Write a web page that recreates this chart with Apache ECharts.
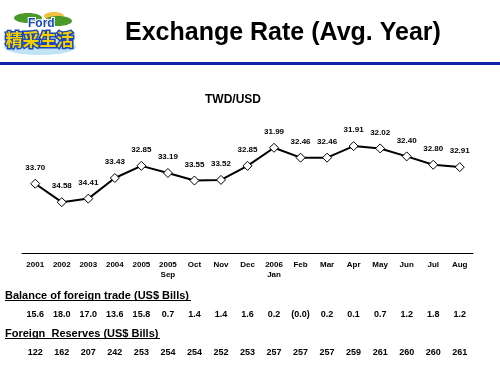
<!DOCTYPE html>
<html>
<head>
<meta charset="utf-8">
<script src="https://cdn.jsdelivr.net/npm/echarts@6/dist/echarts.min.js"></script>
<style>
    html, body { margin: 0; padding: 0; background: #fff; }
    #exchange_rate_chart { width: 500px; height: 375px; }
</style>
</head>
<body>
<div id="exchange_rate_chart"></div>
<script>
// 月份/年份
var periods = ['2001', '2002', '2003', '2004', '2005', '2005\nSep', 'Oct', 'Nov', 'Dec',
    '2006\nJan', 'Feb', 'Mar', 'Apr', 'May', 'Jun', 'Jul', 'Aug'];
// 匯率 TWD/USD
var exchangeRates = [33.70, 34.58, 34.41, 33.43, 32.85, 33.19, 33.55, 33.52, 32.85,
    31.99, 32.46, 32.46, 31.91, 32.02, 32.40, 32.80, 32.91];
// 貿易餘額 (US$ Bills)
var tradeBalance = ['15.6', '18.0', '17.0', '13.6', '15.8', '0.7', '1.4', '1.4', '1.6',
    '0.2', '(0.0)', '0.2', '0.1', '0.7', '1.2', '1.8', '1.2'];
// 外匯存底 (US$ Bills)
var foreignReserves = ['122', '162', '207', '242', '253', '254', '254', '252', '253',
    '257', '257', '257', '259', '261', '260', '260', '261'];

var FONT = 'Arial, "Liberation Sans", sans-serif';

/**
 * 表格行使用的附加类目轴
 */
function tableAxis(data, offset) {
    return {
        type: 'category',
        gridIndex: 0,
        position: 'bottom',
        offset: offset,
        data: data,
        axisLine: {show: false},
        axisTick: {show: false},
        axisLabel: {
            margin: 0,
            color: '#000',
            fontFamily: FONT,
            fontWeight: 'bold',
            fontSize: 9,
            interval: 0
        }
    };
}

var myChart = echarts.init(document.getElementById('exchange_rate_chart'));
var option = {
    animation: false,
    backgroundColor: '#fff',
    graphic: [
        // 标题
        {
            type: 'text', left: 125, top: 21,
            style: {text: 'Exchange Rate (Avg. Year)', font: 'bold 25px ' + FONT, fill: '#000'}
        },
        {
            type: 'text', left: 205, top: 94,
            style: {text: 'TWD/USD', font: 'bold 12px ' + FONT, fill: '#000'}
        },
        // 标题下的蓝线
        {type: 'rect', shape: {x: 0, y: 62, width: 500, height: 3}, style: {fill: '#1020a8'}},
        // logo
        {type: 'ellipse', shape: {cx: 40, cy: 47, rx: 36, ry: 8}, style: {fill: '#bfe3f5'}},
        {type: 'ellipse', shape: {cx: 28, cy: 18, rx: 14, ry: 5}, style: {fill: '#4a9a2a'}},
        {type: 'ellipse', shape: {cx: 54, cy: 16, rx: 10, ry: 4}, style: {fill: '#f0c040'}},
        {type: 'ellipse', shape: {cx: 58, cy: 21, rx: 14, ry: 5}, style: {fill: '#4a9a2a'}},
        {
            type: 'text', left: 27, top: 17,
            style: {text: 'Ford', font: 'bold 12px ' + FONT, fill: '#1a48b8', stroke: '#fff', lineWidth: 2}
        },
        {
            type: 'text', left: 4, top: 30,
            style: {
                text: '精采生活', font: 'bold 17px "Noto Sans CJK TC"',
                fill: '#f7d000', stroke: '#1a48b8', lineWidth: 3
            }
        },
        // 表格标题
        {
            type: 'text', left: 5, top: 290,
            style: {text: 'Balance of foreign trade (US$ Bills)', font: 'bold 11px ' + FONT, fill: '#000'}
        },
        {type: 'rect', shape: {x: 5, y: 300, width: 186, height: 1}, style: {fill: '#000'}},
        {
            type: 'text', left: 5, top: 328,
            style: {text: 'Foreign  Reserves (US$ Bills)', font: 'bold 11px ' + FONT, fill: '#000'}
        },
        {type: 'rect', shape: {x: 5, y: 338, width: 155, height: 1}, style: {fill: '#000'}}
    ],
    grid: {left: 22, right: 27, top: 106, bottom: 122, containLabel: false},
    xAxis: [{
        type: 'category',
        data: periods,
        axisLine: {lineStyle: {color: '#000', width: 1}},
        axisTick: {inside: true, length: 3, lineStyle: {color: '#000'}},
        axisLabel: {
            margin: 7,
            interval: 0,
            color: '#000',
            fontFamily: FONT,
            fontWeight: 'bold',
            fontSize: 8,
            lineHeight: 10
        }
    }, tableAxis(tradeBalance, 57), tableAxis(foreignReserves, 95)],
    yAxis: {
        type: 'value',
        inverse: true,
        min: 30,
        max: 37,
        show: false,
        splitLine: {show: false}
    },
    series: [{
        type: 'line',
        data: exchangeRates,
        symbol: 'diamond',
        symbolSize: 9,
        lineStyle: {color: '#000', width: 2},
        itemStyle: {color: '#fff', borderColor: '#000', borderWidth: 1},
        label: {
            show: true,
            position: 'top',
            distance: 7,
            color: '#000',
            fontFamily: FONT,
            fontWeight: 'bold',
            fontSize: 8,
            formatter: function (p) { return p.value.toFixed(2); }
        }
    }]
};
myChart.setOption(option);
</script>
</body>
</html>
